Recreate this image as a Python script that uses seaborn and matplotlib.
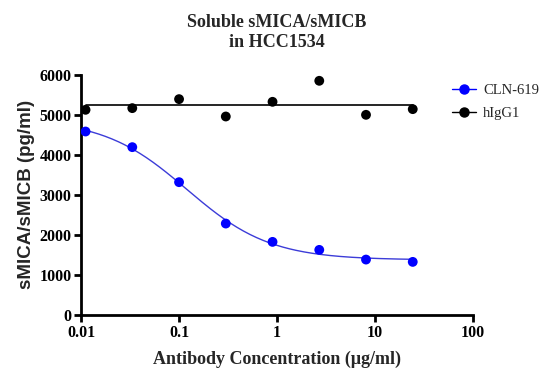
import numpy as np
import pandas as pd
import seaborn as sns
import matplotlib.pyplot as plt
from matplotlib.lines import Line2D

# antibody concentrations (ug/ml), 3-fold dilution series
conc = [0.0111, 0.0333, 0.1, 0.3, 0.9, 2.7, 8.1, 24.3]
cln619 = [4583, 4192, 3317, 2283, 1825, 1625, 1383, 1325]
higg1 = [5125, 5167, 5392, 4958, 5325, 5850, 5000, 5142]
y_ticks = [0, 1000, 2000, 3000, 4000, 5000, 6000]
x_ticks = [0.01, 0.1, 1, 10, 100]
x_tick_labels = ["0.01", "0.1", "1", "10", "100"]

# 4-parameter logistic fit for CLN-619 (grid over IC50/hill, linear LS for top/bottom)
x = np.array(conc)
y = np.array(cln619)
best = None
for log_ic50 in np.linspace(-2, 1, 301):
    for hill in np.linspace(0.4, 3, 131):
        g = 1 / (1 + (x / 10 ** log_ic50) ** hill)
        A = np.column_stack([1 - g, g])
        coef, *_ = np.linalg.lstsq(A, y, rcond=None)
        err = np.sum((A @ coef - y) ** 2)
        if best is None or err < best[0]:
            best = (err, log_ic50, hill, coef)
_, log_ic50, hill, (bottom, top) = best
xf = np.logspace(np.log10(conc[0]), np.log10(conc[-1]), 200)
fit = pd.DataFrame({"conc": xf,
                    "val": bottom + (top - bottom) / (1 + (xf / 10 ** log_ic50) ** hill)})
ctrl_line = pd.DataFrame({"conc": [conc[0], conc[-1]], "val": [np.mean(higg1)] * 2})

df = pd.DataFrame({"conc": conc * 2,
                   "val": cln619 + higg1,
                   "group": ["CLN-619"] * 8 + ["hIgG1"] * 8})

sns.set_style("ticks")
plt.rcParams["font.family"] = ["Liberation Serif", "DejaVu Serif"]

fig = plt.figure(figsize=(5.48, 3.74), dpi=100)
ax = fig.add_axes([0.148, 0.158, 0.715, 0.642])

blue = "#0000ff"
sns.lineplot(data=fit, x="conc", y="val", color="#3c3cd8", lw=1.0, ax=ax)
sns.lineplot(data=ctrl_line, x="conc", y="val", color="black", lw=1.2, ax=ax)
sns.scatterplot(data=df, x="conc", y="val", hue="group",
                palette={"CLN-619": blue, "hIgG1": "black"},
                s=50, edgecolor="none", legend=False, ax=ax, zorder=3)

ax.set_xscale("log")
ax.set_xlim(0.01, 100)
ax.set_ylim(0, 6000)
ax.set_xticks(x_ticks)
ax.set_xticklabels(x_tick_labels)
ax.minorticks_off()
ax.set_yticks(y_ticks)
ax.set_yticklabels([str(v) for v in y_ticks])
for lab in ax.get_xticklabels() + ax.get_yticklabels():
    lab.set_fontweight("bold")
    lab.set_fontsize(11.5)
ax.tick_params(width=2, length=5, pad=2, colors="black")
for s in ["left", "bottom"]:
    ax.spines[s].set_linewidth(2)
    ax.spines[s].set_color("black")
sns.despine(ax=ax)

ax.set_xlabel("Antibody Concentration (\u03bcg/ml)", fontsize=13, fontweight="bold", labelpad=7)
ax.set_ylabel("sMICA/sMICB (pg/ml)", fontsize=13.5, fontweight="bold",
              family=["Liberation Sans", "DejaVu Sans"], labelpad=3)
ax.set_title("Soluble sMICA/sMICB\nin HCC1534", fontsize=13, fontweight="bold",
             pad=20, linespacing=1.25)

handles = [Line2D([], [], color=blue, marker="o", markersize=6.5, lw=1),
           Line2D([], [], color="black", marker="o", markersize=6.5, lw=1)]
leg = ax.legend(handles, ["CLN-619", "hIgG1"], loc="upper left",
                bbox_to_anchor=(0.925, 1.0), frameon=False, fontsize=10.5,
                handlelength=1.6, handletextpad=0.5, labelspacing=0.7,
                borderaxespad=0.2)

fig.savefig("out.png", dpi=100)
